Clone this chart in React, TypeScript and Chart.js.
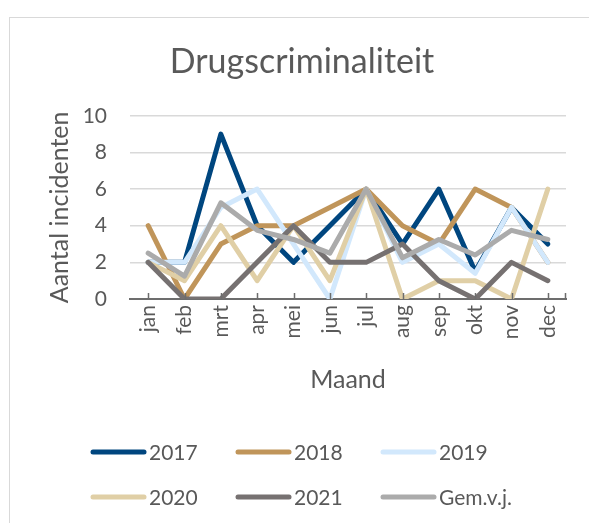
import React, { useEffect, useRef } from "react";
import { Chart, registerables } from "chart.js";

Chart.register(...registerables);

const months = ["jan", "feb", "mrt", "apr", "mei", "jun", "jul", "aug", "sep", "okt", "nov", "dec"];
const seriesNames = ["2017", "2018", "2019", "2020", "2021", "Gem.v.j."];
const v2017 = [2, 2, 9, 4, 2, 4, 6, 3, 6, 1.5, 5, 3];
const v2018 = [4, 0, 3, 4, 4, 5, 6, 4, 3, 6, 5, 2];
const v2019 = [2, 2, 5, 6, 3, 0, 6, 2, 3, 1.4, 5, 2];
const v2020 = [2, 1, 4, 1, 4, 1, 6, 0, 1, 1, 0, 6];
const v2021 = [2, 0, 0, 2, 4, 2, 2, 3, 1, 0, 2, 1];
const vGem = [2.5, 1.25, 5.25, 3.75, 3.25, 2.5, 6, 2.25, 3.25, 2.4, 3.75, 3.25];
const seriesValues = [v2017, v2018, v2019, v2020, v2021, vGem];
const colors = ["#00467f", "#c0955a", "#d2e8fc", "#e0cfa6", "#767171", "#ababab"];
const yMin = 0;
const yMax = 10;
const yStep = 2;
const titleText = "Drugscriminaliteit";
const xTitle = "Maand";
const yTitle = "Aantal incidenten";

const FONT = "Lato, 'Open Sans', sans-serif";
const TEXT = "#595959";

const framePlugin = {
  id: "frame",
  beforeDraw(chart: any) {
    const ctx = chart.ctx;
    ctx.save();
    ctx.fillStyle = "#ffffff";
    ctx.fillRect(0, 0, chart.width, chart.height);
    ctx.strokeStyle = "#d9d9d9";
    ctx.lineWidth = 1;
    ctx.strokeRect(9.5, 17.5, chart.width + 20, chart.height + 20);
    ctx.restore();
  },
};

const innerTicksPlugin = {
  id: "innerTicks",
  afterDatasetsDraw(chart: any) {
    const ctx = chart.ctx;
    const xs = chart.scales.x;
    const bottom = chart.chartArea.bottom;
    ctx.save();
    ctx.strokeStyle = "#6d6d6d";
    ctx.lineWidth = 1.5;
    ctx.beginPath();
    for (let i = 0; i < months.length; i++) {
      const px = Math.round(xs.getPixelForTick(i)) + 0.5;
      ctx.moveTo(px, bottom);
      ctx.lineTo(px, bottom - 6);
    }
    ctx.moveTo(xs.right - 0.5, bottom);
    ctx.lineTo(xs.right - 0.5, bottom - 6);
    ctx.stroke();
    ctx.restore();
  },
};

const gridLegendPlugin = {
  id: "gridLegend",
  afterDraw(chart: any) {
    const ctx = chart.ctx;
    const cols = 3;
    const colStart = 91;
    const colGap = 145;
    const rowStart = 452;
    const rowGap = 45;
    const lineLen = 55;
    ctx.save();
    ctx.font = `21px ${FONT}`;
    ctx.textBaseline = "middle";
    ctx.textAlign = "left";
    chart.data.datasets.forEach((ds: any, i: number) => {
      const col = i % cols;
      const row = Math.floor(i / cols);
      const x = colStart + col * colGap;
      const y = rowStart + row * rowGap;
      ctx.strokeStyle = ds.borderColor;
      ctx.lineWidth = 5;
      ctx.lineCap = "round";
      ctx.beginPath();
      ctx.moveTo(x + 2, y);
      ctx.lineTo(x + lineLen - 2, y);
      ctx.stroke();
      ctx.fillStyle = TEXT;
      ctx.fillText(ds.label, x + lineLen + 3, y + 1);
    });
    ctx.restore();
  },
};

export default function App() {
  const canvasRef = useRef<HTMLCanvasElement | null>(null);

  useEffect(() => {
    document.body.style.margin = "0";
    const canvas = canvasRef.current;
    if (!canvas) return;
    const chart = new Chart(canvas, {
      type: "line",
      data: {
        labels: months,
        datasets: seriesNames.map((name, i) => ({
          label: name,
          data: seriesValues[i],
          borderColor: colors[i],
          backgroundColor: colors[i],
          borderWidth: 5,
          pointRadius: 0,
          tension: 0,
          fill: false,
          borderJoinStyle: "round" as const,
          borderCapStyle: "round" as const,
          order: seriesNames.length - i,
        })),
      },
      options: {
        responsive: false,
        animation: false,
        devicePixelRatio: 1,
        layout: { padding: { left: 38, right: 23, top: 0, bottom: 128 } },
        plugins: {
          legend: { display: false },
          tooltip: { enabled: false },
          title: {
            display: true,
            text: titleText,
            color: TEXT,
            font: { family: FONT, size: 34, weight: "normal" },
            padding: { top: 42, bottom: 33 },
          },
        },
        scales: {
          x: {
            type: "category",
            offset: true,
            grid: { display: false, drawTicks: false },
            border: { display: true, color: "#6d6d6d", width: 2 },
            ticks: {
              color: TEXT,
              font: { family: FONT, size: 21 },
              minRotation: 90,
              maxRotation: 90,
              padding: 6,
              autoSkip: false,
            },
            title: {
              display: true,
              text: xTitle,
              color: TEXT,
              font: { family: FONT, size: 25 },
              padding: { top: 0, bottom: 0 },
            },
            afterFit(scale: any) {
              scale.height = 96;
            },
          },
          y: {
            min: yMin,
            max: yMax,
            ticks: {
              stepSize: yStep,
              color: TEXT,
              font: { family: FONT, size: 21 },
              padding: 23,
            },
            grid: { color: "#d9d9d9", lineWidth: 1.5, drawTicks: false },
            border: { display: false },
            title: {
              display: true,
              text: yTitle,
              color: TEXT,
              font: { family: FONT, size: 25 },
              padding: { top: 7, bottom: 0 },
            },
            afterFit(scale: any) {
              scale.width = 92;
            },
          },
        },
      },
      plugins: [framePlugin, innerTicksPlugin, gridLegendPlugin],
    });
    return () => chart.destroy();
  }, []);

  return (
    <div style={{ width: 589, height: 523 }}>
      <canvas ref={canvasRef} width={589} height={523} style={{ display: "block" }} />
    </div>
  );
}
